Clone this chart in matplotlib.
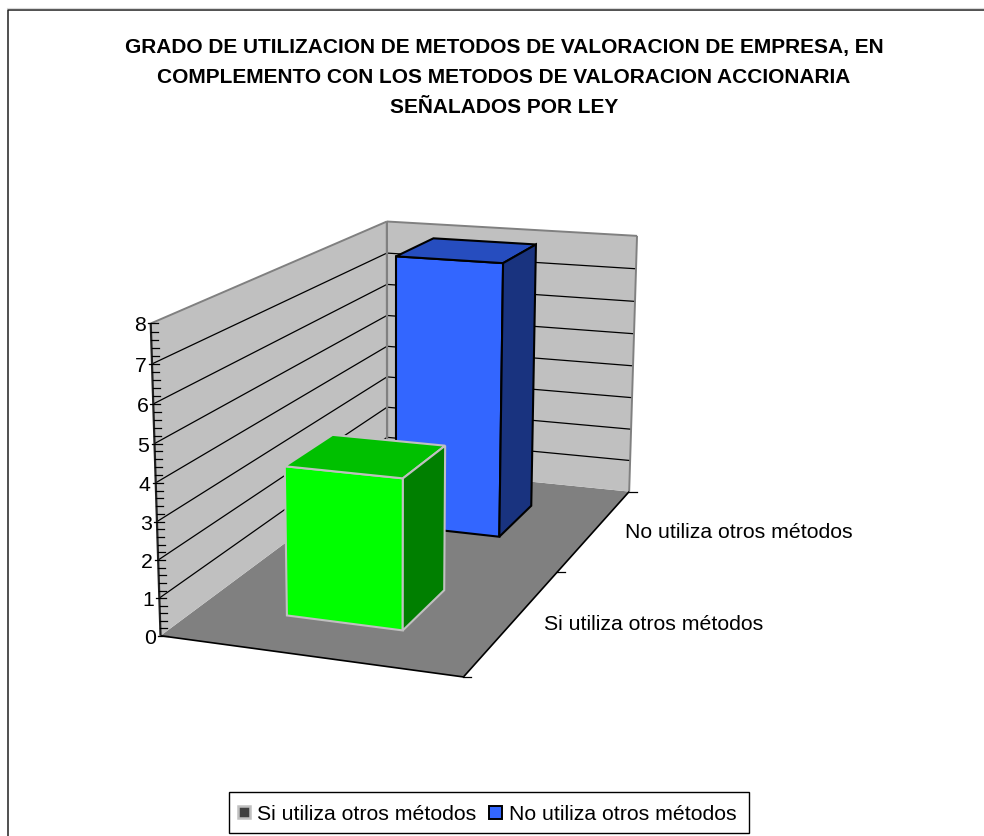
import matplotlib
matplotlib.use("Agg")
from matplotlib import pyplot as plt
from matplotlib.patches import Polygon, Rectangle
import numpy as np

plt.rcParams['font.family'] = ['Liberation Sans', 'DejaVu Sans']

title_lines = ["GRADO DE UTILIZACION DE METODOS DE VALORACION DE EMPRESA, EN",
               "COMPLEMENTO CON LOS METODOS DE VALORACION ACCIONARIA",
               "SEÑALADOS POR LEY"]
categories = ["Si utiliza otros métodos", "No utiliza otros métodos"]
values = [4, 8]
axis_ticks = [0, 1, 2, 3, 4, 5, 6, 7, 8]

# camera of the 3d box: width (0-1), depth (0-2 rows), height (0-8)
world = np.array([[0, 0, 0], [0, 0, 8], [1, 0, 0], [0, 2, 0], [0, 2, 8],
                  [1, 2, 0], [1, 2, 8], [0, 0, 4], [1, 1, 0], [0, 2, 4], [1, 2, 1]], float)
screen = np.array([[160, 636], [150, 324], [463, 677], [387, 467], [387, 221],
                   [629, 492], [637, 236], [157, 482], [558, 572], [387, 347], [630, 460]], float)

rows = []
for (x, y, z), (u, v) in zip(world, screen):
    rows.append([x, y, z, 1, 0, 0, 0, 0, -u * x, -u * y, -u * z])
    rows.append([0, 0, 0, 0, x, y, z, 1, -v * x, -v * y, -v * z])
cam = np.linalg.lstsq(np.array(rows), screen.ravel(), rcond=None)[0]
cam = np.append(cam, 1).reshape(3, 4)


def project(x, y, z):
    p = cam @ np.array([x, y, z, 1.0])
    return p[0] / p[2], p[1] / p[2]


def face(ax, pts, color, edge=None, lw=1.2, zorder=1):
    ax.add_patch(Polygon([project(*p) for p in pts], closed=True, facecolor=color,
                         edgecolor=edge if edge else color, lw=lw if edge else 0,
                         joinstyle="miter", zorder=zorder))


def seg(ax, a, b, color, lw, zorder=2):
    pa, pb = project(*a), project(*b)
    ax.plot([pa[0], pb[0]], [pa[1], pb[1]], color=color, lw=lw, zorder=zorder,
            solid_capstyle="butt")


fig = plt.figure(figsize=(9.84, 8.36), dpi=100)
ax = fig.add_axes([0, 0, 1, 1])
ax.set_xlim(0, 984)
ax.set_ylim(836, 0)
ax.axis("off")

# outer chart frame
ax.plot([7.5, 7.5, 984], [836, 9.5, 9.5], color="#202020", lw=1.1)
ax.plot([7, 984], [8, 8], color="#D8D8D8", lw=0.8)

top = axis_ticks[-1]

# walls and floor
face(ax, [(0, 0, 0), (1, 0, 0), (1, 2, 0), (0, 2, 0)], "#808080")
face(ax, [(0, 0, 0), (0, 2, 0), (0, 2, top), (0, 0, top)], "#C0C0C0")
face(ax, [(0, 2, 0), (1, 2, 0), (1, 2, top), (0, 2, top)], "#C0C0C0")
for v in axis_ticks[1:-1]:
    seg(ax, (0, 0, v), (0, 2, v), "black", 0.9)
    seg(ax, (0, 2, v), (1, 2, v), "black", 0.9)
seg(ax, (0, 0, top), (0, 2, top), "#808080", 1.4)
seg(ax, (0, 2, top), (1, 2, top), "#808080", 1.4)
seg(ax, (0, 2, 0), (0, 2, top), "#808080", 1.6)
seg(ax, (1, 2, 0), (1, 2, top), "#808080", 1.4)
seg(ax, (0, 0, 0), (1, 0, 0), "black", 1.2, 3)
seg(ax, (1, 0, 0), (1, 2, 0), "black", 1.2, 3)
seg(ax, (0, 0, 0), (0, 0, top), "#202020", 1.6, 3)

# value axis ticks and labels
for v in np.arange(0, top + 0.01, 0.2):
    u, w = project(0, 0, v)
    major = abs(v - round(v)) < 1e-6
    ax.plot([u - (3 if major else 0), u + 7], [w, w], color="black", lw=0.9, zorder=3)
for v in axis_ticks:
    u, w = project(0, 0, v)
    ax.text(u - 5, w + 8, str(v), ha="right", va="baseline", fontsize=15.3, color="black")

# depth axis ticks and category labels
for d in range(3):
    u, w = project(1, d, 0)
    ax.plot([u, u + 8], [w, w], color="black", lw=0.9, zorder=3)
for d, name in enumerate(categories):
    u, w = project(1, d + 0.5, 0)
    ax.text(u + 30, w + 9, name, ha="left", va="baseline", fontsize=15.3, color="black")

# bars, back row first
lo, hi = 0.30, 0.697
bar_styles = [("#00FF00", "#00C000", "#007F00", "#C0C0C0"),
              ("#3366FF", "#264DBF", "#19337F", "black")]
for d in [1, 0]:
    h = values[d]
    front, topc, side, edge = bar_styles[d]
    y0, y1 = d + lo, d + hi
    z = 6 + (1 - d)
    face(ax, [(lo, y0, 0), (hi, y0, 0), (hi, y0, h), (lo, y0, h)], front, edge, 1.5, z)
    face(ax, [(lo, y0, h), (hi, y0, h), (hi, y1, h), (lo, y1, h)], topc, edge, 1.5, z)
    face(ax, [(hi, y0, 0), (hi, y1, 0), (hi, y1, h), (hi, y0, h)], side, edge, 1.5, z)

for line, ypx in zip(title_lines, [53.5, 83, 113]):
    ax.text(504, ypx, line, ha="center", va="baseline", fontsize=15, fontweight="bold")

# legend box
ax.add_patch(Rectangle((229, 792), 520, 41, facecolor="white", edgecolor="black", lw=1, zorder=8))
ax.add_patch(Rectangle((238, 806), 12, 12, facecolor="#404040", edgecolor="#C0C0C0", lw=1.8, zorder=9))
ax.add_patch(Rectangle((489, 806), 13, 13, facecolor="#3366FF", edgecolor="black", lw=1.4, zorder=9))
ax.text(257, 820.5, categories[0], ha="left", va="baseline", fontsize=15.3, zorder=9)
ax.text(509, 820.5, categories[1], ha="left", va="baseline", fontsize=15.3, zorder=9)

fig.savefig("out.png", dpi=100)
